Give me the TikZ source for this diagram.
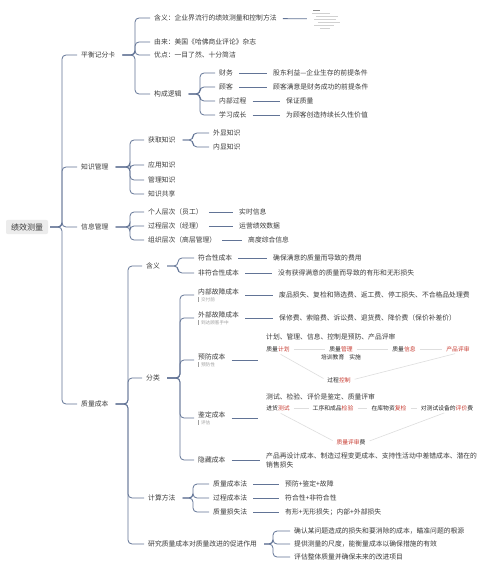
\documentclass[tikz,border=0pt]{standalone}
\usepackage{fontspec}
\setmainfont{Noto Sans CJK SC}
\usetikzlibrary{calc}
\definecolor{linec}{RGB}{98,116,150}
\definecolor{textc}{RGB}{60,60,60}
\definecolor{darkc}{RGB}{40,40,40}
\definecolor{redc}{RGB}{200,60,50}
\definecolor{notec}{RGB}{160,160,160}
\definecolor{dgc}{RGB}{222,222,222}
\definecolor{rootc}{RGB}{236,236,236}
\newcommand\mainfs{\fontsize{6.8}{8.5}\selectfont}
\newcommand\notefs{\fontsize{4.6}{5.5}\selectfont}
\newcommand\nbar{\textcolor{notec}{\rule[-0.6pt]{0.4pt}{5pt}}\hspace{2.5pt}}
\newcommand\rd[1]{\textcolor{redc}{#1}}
\tikzset{
  txt/.style={anchor=west, inner sep=1pt, text=textc, font=\mainfs},
  twol/.style={anchor=west, inner sep=1pt, text=textc, font=\mainfs, align=left},
  rootn/.style={fill=rootc, rounded corners=2pt, inner xsep=5pt, inner ysep=3.5pt, text=textc, font=\fontsize{8}{10}\selectfont},
  conn/.style={draw=linec, line width=0.8pt, rounded corners=4pt},
  leaf/.style={draw=linec, line width=0.8pt, shorten <=5pt, shorten >=5pt},
  dlab/.style={inner sep=1pt, text=darkc, font=\fontsize{5.8}{7}\selectfont},
  dline/.style={draw=dgc, line width=0.6pt, shorten <=3pt, shorten >=3pt},
  thl/.style={draw=black!18, line width=0.6pt}
}
\begin{document}
\begin{tikzpicture}[x=1pt,y=-1pt]
\fill[white] (0,0) rectangle (500,564);
\useasboundingbox (0,0) rectangle (500,564);

% root and level 1
\node[rootn] (root) at (27,227) {绩效测量};
\coordinate (trunk) at (62,227);
\node[txt] (bsc) at (80,55) {平衡记分卡};
\node[txt] (km) at (80,167) {知识管理};
\node[txt] (im) at (80,227) {信息管理};
\node[txt] (qc) at (80,404) {质量成本};
\foreach \c in {bsc,km,im,qc}
  \draw[conn] ([xshift=2pt]root.east) -- (trunk) |- ([xshift=-3pt]\c.west);

% balanced scorecard
\coordinate (bscb) at (135,55);
\node[txt] (bsc1) at (153,18) {含义：企业界流行的绩效测量和控制方法};
\node[txt] (bsc2) at (153,42) {由来：美国《哈佛商业评论》杂志};
\node[txt] (bsc3) at (153,55) {优点：一目了然、十分简洁};
\node[txt] (bsc4) at (153,94) {构成逻辑};
\foreach \c in {bsc1,bsc2,bsc3,bsc4}
  \draw[conn] ([xshift=6pt]bsc.east) -- (bscb) |- ([xshift=-3pt]\c.west);
\node[minimum width=28pt, minimum height=20pt, inner sep=0pt] (thumb) at (326,19) {};
\draw[leaf] (bsc1) -- (thumb);
\draw[thl, draw=black!45] (313,10) -- (320,10);
\draw[thl] (312,13.5) -- (330,13.5);
\draw[thl] (316,16.5) -- (338,16.5);
\draw[thl] (314,19.5) -- (336,19.5);
\draw[thl] (318,22.5) -- (340,22.5);
\draw[thl] (314,25.5) -- (334,25.5);
\draw[thl] (320,28.5) -- (330,28.5);

\coordinate (logb) at (200,94);
\node[txt] (f1) at (218,73) {财务};
\node[txt] (f2) at (218,87) {顾客};
\node[txt] (f3) at (218,101) {内部过程};
\node[txt] (f4) at (218,115) {学习成长};
\foreach \c in {f1,f2,f3,f4}
  \draw[conn] ([xshift=6pt]bsc4.east) -- (logb) |- ([xshift=-3pt]\c.west);
\node[txt] (g1) at (272,73) {股东利益—企业生存的前提条件};
\node[txt] (g2) at (272,87) {顾客满意是财务成功的前提条件};
\node[txt] (g3) at (285,101) {保证质量};
\node[txt] (g4) at (285,115) {为顾客创造持续长久性价值};
\draw[leaf] (f1) -- (g1);
\draw[leaf] (f2) -- (g2);
\draw[leaf] (f3) -- (g3);
\draw[leaf] (f4) -- (g4);

% knowledge management
\coordinate (kmb) at (130,167);
\node[txt] (k1) at (147,140) {获取知识};
\node[txt] (k2) at (147,165) {应用知识};
\node[txt] (k3) at (147,180) {管理知识};
\node[txt] (k4) at (147,194) {知识共享};
\foreach \c in {k1,k2,k3,k4}
  \draw[conn] ([xshift=6pt]km.east) -- (kmb) |- ([xshift=-3pt]\c.west);
\coordinate (k1b) at (193,140);
\node[txt] (k11) at (212,133) {外显知识};
\node[txt] (k12) at (212,147) {内显知识};
\foreach \c in {k11,k12}
  \draw[conn] ([xshift=6pt]k1.east) -- (k1b) |- ([xshift=-3pt]\c.west);

% information management
\coordinate (imb) at (130,227);
\node[txt] (i1) at (147,212) {个人层次（员工）};
\node[txt] (i2) at (147,226) {过程层次（经理）};
\node[txt] (i3) at (147,240) {组织层次（高层管理）};
\foreach \c in {i1,i2,i3}
  \draw[conn] ([xshift=6pt]im.east) -- (imb) |- ([xshift=-3pt]\c.west);
\node[txt] (j1) at (238,212) {实时信息};
\node[txt] (j2) at (238,226) {运营绩效数据};
\node[txt] (j3) at (247,240) {高度综合信息};
\draw[leaf] (i1) -- (j1);
\draw[leaf] (i2) -- (j2);
\draw[leaf] (i3) -- (j3);

% quality cost
\coordinate (qcb) at (128,404);
\node[txt] (q1) at (145,266) {含义};
\node[txt] (q2) at (145,378) {分类};
\node[txt] (q3) at (147,498) {计算方法};
\node[txt] (q4) at (147,544) {研究质量成本对质量改进的促进作用};
\foreach \c in {q1,q2,q3,q4}
  \draw[conn] ([xshift=6pt]qc.east) -- (qcb) |- ([xshift=-3pt]\c.west);

% meaning
\coordinate (q1b) at (178,266);
\node[txt] (q11) at (197,258) {符合性成本};
\node[txt] (q12) at (197,273) {非符合性成本};
\foreach \c in {q11,q12}
  \draw[conn] ([xshift=6pt]q1.east) -- (q1b) |- ([xshift=-3pt]\c.west);
\node[txt] (q11t) at (272,258) {确保满意的质量而导致的费用};
\node[txt] (q12t) at (277,273) {没有获得满意的质量而导致的有形和无形损失};
\draw[leaf] (q11) -- (q11t);
\draw[leaf] (q12) -- (q12t);

% classification
\coordinate (q2b) at (180,378);
\node[twol] (c1) at (197,295) {内部故障成本\\[-1.5pt]{\notefs\nbar\textcolor{notec}{交付前}}};
\node[twol] (c2) at (197,318) {外部故障成本\\[-1.5pt]{\notefs\nbar\textcolor{notec}{到达顾客手中}}};
\node[twol] (c3) at (197,360) {预防成本\\[-1.5pt]{\notefs\nbar\textcolor{notec}{预防性}}};
\node[twol] (c4) at (197,418) {鉴定成本\\[-1.5pt]{\notefs\nbar\textcolor{notec}{评估}}};
\node[txt] (c5) at (197,460) {隐藏成本};
\foreach \c in {c1,c2,c3,c4,c5}
  \draw[conn] ([xshift=6pt]q2.east) -- (q2b) |- ([xshift=-3pt]\c.west);
\node[txt] (c1t) at (278,295) {废品损失、复检和筛选费、返工费、停工损失、不合格品处理费};
\node[txt] (c2t) at (278,318) {保修费、索赔费、诉讼费、退货费、降价费（保价补差价）};
\draw[leaf] (c1) -- (c1t);
\draw[leaf] (c2) -- (c2t);
\node[twol] (c5t) at (265,460) {产品再设计成本、制造过程变更成本、支持性活动中差错成本、潜在的\\[0.5pt]销售损失};
\draw[leaf] (c5) -- (c5t);

% prevention diagram
\coordinate (c3e) at (258,360);
\draw[leaf, shorten >=0pt] (c3) -- (c3e);
\node[txt] (p0) at (265,337) {计划、管理、信息、控制是预防、产品评审};
\node[dlab] (pa) at (278,349) {质量\rd{计划}};
\node[dlab] (pb) at (341,349) {质量\rd{管理}};
\node[dlab] (pc) at (404,349) {质量\rd{信息}};
\node[dlab] (pd) at (458,349) {\rd{产品评审}};
\node[dlab] (pe) at (341,357) {培训教育\hspace{5pt}实施};
\node[dlab] (pf) at (339,380) {过程\rd{控制}};
\draw[dline] (pa) -- (pb);
\draw[dline] (pb) -- (pc);
\draw[dline] (pc) -- (pd);
\draw[dline] (pa.south) -- (pf.west);
\draw[dline] (pd.south) -- (pf.east);

% appraisal diagram
\coordinate (c4e) at (258,418);
\draw[leaf, shorten >=0pt] (c4) -- (c4e);
\node[txt] (a0) at (265,397) {测试、检验、评价是鉴定、质量评审};
\node[dlab] (aa) at (278,408) {进货\rd{测试}};
\node[dlab] (ab) at (333,408) {工序和成品\rd{检验}};
\node[dlab] (ac) at (389,408) {在库物资\rd{复检}};
\node[dlab] (ad) at (447,408) {对测试设备的\rd{评价}费};
\node[dlab] (af) at (351,442) {\rd{质量评审}费};
\draw[dline] (aa) -- (ab);
\draw[dline] (ab) -- (ac);
\draw[dline] (ac) -- (ad);
\draw[dline] (aa.south) -- (af.west);
\draw[dline] (ad.south) -- (af.east);

% calculation methods
\coordinate (q3b) at (193,498);
\node[txt] (m1) at (212,484) {质量成本法};
\node[txt] (m2) at (212,498) {过程成本法};
\node[txt] (m3) at (212,512) {质量损失法};
\foreach \c in {m1,m2,m3}
  \draw[conn] ([xshift=6pt]q3.east) -- (q3b) |- ([xshift=-3pt]\c.west);
\node[txt] (m1t) at (284,484) {预防+鉴定+故障};
\node[txt] (m2t) at (284,498) {符合性+非符合性};
\node[txt] (m3t) at (284,512) {有形+无形损失；内部+外部损失};
\draw[leaf] (m1) -- (m1t);
\draw[leaf] (m2) -- (m2t);
\draw[leaf] (m3) -- (m3t);

% improvement role
\coordinate (q4b) at (273,544);
\node[txt] (r1) at (293,531) {确认某问题造成的损失和要消除的成本，瞄准问题的根源};
\node[txt] (r2) at (293,544) {提供测量的尺度，能衡量成本以确保措施的有效};
\node[txt] (r3) at (293,557) {评估整体质量并确保未来的改进项目};
\foreach \c in {r1,r2,r3}
  \draw[conn] ([xshift=6pt]q4.east) -- (q4b) |- ([xshift=-3pt]\c.west);
\end{tikzpicture}
\end{document}
